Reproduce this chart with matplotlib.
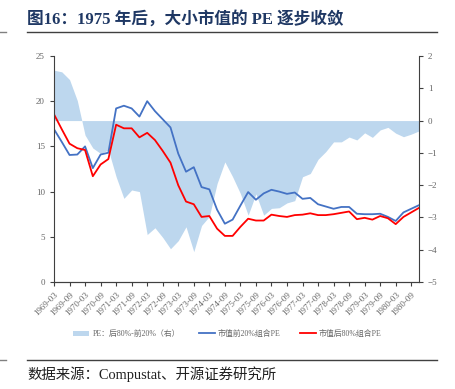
import numpy as np
import matplotlib.pyplot as plt
from matplotlib.lines import Line2D
from matplotlib.patches import Patch

# quarterly data 1969-03 .. 1980-12
quarters = [f"{y}-{m:02d}" for y in range(1969, 1981) for m in (3, 6, 9, 12)]
tick_labels = [f"{y}-{m:02d}" for y in range(1969, 1981) for m in (3, 9)]

pe_top20 = [16.9, 15.5, 14.05, 14.1, 15.0, 12.6, 14.1, 14.3, 19.2, 19.5,
            19.2, 18.3, 20.0, 18.9, 18.0, 17.1, 14.2, 12.2, 12.7, 10.5,
            10.25, 8.0, 6.45, 6.9, 8.45, 9.95, 9.1, 9.8, 10.2, 10.0,
            9.75, 9.9, 9.2, 9.3, 8.6, 8.35, 8.1, 8.3, 8.3, 7.55,
            7.5, 7.5, 7.55, 7.2, 6.75, 7.7, 8.1, 8.5]
pe_bottom80 = [18.55, 16.9, 15.3, 14.8, 14.6, 11.7, 13.0, 13.6, 17.4, 17.0,
               17.0, 16.0, 16.5, 15.7, 14.5, 13.2, 10.7, 8.9, 8.6, 7.2,
               7.3, 5.9, 5.1, 5.1, 6.1, 7.0, 6.8, 6.8, 7.45, 7.3,
               7.2, 7.4, 7.45, 7.6, 7.4, 7.4, 7.5, 7.65, 7.8, 6.95,
               7.1, 6.9, 7.3, 7.05, 6.4, 7.2, 7.7, 8.2]
pe_diff = [1.56, 1.51, 1.27, 0.62, -0.45, -0.85, -1.02, -0.91, -1.74, -2.41,
           -2.15, -2.2, -3.53, -3.32, -3.62, -3.97, -3.72, -3.29, -4.06, -3.25,
           -2.97, -1.95, -1.28, -1.74, -2.26, -2.93, -2.27, -2.93, -2.72, -2.7,
           -2.55, -2.48, -1.74, -1.64, -1.2, -0.96, -0.66, -0.66, -0.51, -0.6,
           -0.38, -0.52, -0.29, -0.21, -0.39, -0.5, -0.42, -0.32]

plt.rcParams['font.family'] = ['Liberation Serif', 'Noto Sans CJK SC', 'DejaVu Sans']
grey = '#666666'
blue = '#4472C4'
red = '#FF0000'
shade = '#BDD7EE'

fig = plt.figure(figsize=(4.55, 3.89), dpi=100)
ax = fig.add_axes([54/455, 1-282/389, (419-54)/455, (282-56)/389])
ax2 = ax.twinx()
ax.set_zorder(2)
ax.patch.set_visible(False)

x = np.arange(len(quarters))
ax2.fill_between(x, 0, pe_diff, color=shade, lw=0)
ax.plot(x, pe_top20, color=blue, lw=1.3)
ax.plot(x, pe_bottom80, color=red, lw=1.3)

ax.set_xlim(0, len(quarters) - 1)
ax.set_ylim(0, 25)
ax.set_yticks(range(0, 26, 5))
ax2.set_ylim(-5, 2)
ax2.set_yticks(range(-5, 3))
ax.set_xticks(x[::2])
ax.set_xticklabels(tick_labels, rotation=45, ha='right', va='top',
                   rotation_mode='anchor', fontsize=6.3, color=grey)

for a in (ax, ax2):
    for s in a.spines.values():
        s.set_color('#404040')
        s.set_linewidth(0.8)
    a.spines['top'].set_visible(False)
    a.tick_params(colors='#404040', labelcolor=grey, labelsize=6.5,
                  length=3, width=0.8, direction='out')
ax2.spines['left'].set_visible(False)
ax.spines['right'].set_visible(False)

handles = [Patch(color=shade, lw=0),
           Line2D([], [], color=blue, lw=1.3),
           Line2D([], [], color=red, lw=1.3)]
labels = ['PE：后80%-前20%（右）', '市值前20%组合PE', '市值后80%组合PE']
fig.legend(handles, labels, loc='center', bbox_to_anchor=(0.5, 1-334/389),
           ncol=3, frameon=False, fontsize=5.7, labelcolor=grey,
           handlelength=2.0, handleheight=0.6, columnspacing=2.4, handletextpad=0.4)

fig.text(27/455, 1-19/389, '图16：1975 年后，大小市值的 PE 逐步收敛',
         fontsize=12, fontweight='bold', color='#1F3864', va='center')
fig.add_artist(Line2D([27/455, 437/455], [1-32/389, 1-32/389], color='#404040', lw=1))
fig.add_artist(Line2D([0, 6/455], [1-32/389, 1-32/389], color='#808080', lw=1))
fig.add_artist(Line2D([27/455, 437/455], [1-360/389, 1-360/389], color='#404040', lw=1))
fig.add_artist(Line2D([0, 6/455], [1-360/389, 1-360/389], color='#808080', lw=1))
fig.text(27/455, 1-374/389, '数据来源：Compustat、开源证券研究所',
         fontsize=10.4, color='#202020', va='center')

fig.savefig('out.png', dpi=100)
